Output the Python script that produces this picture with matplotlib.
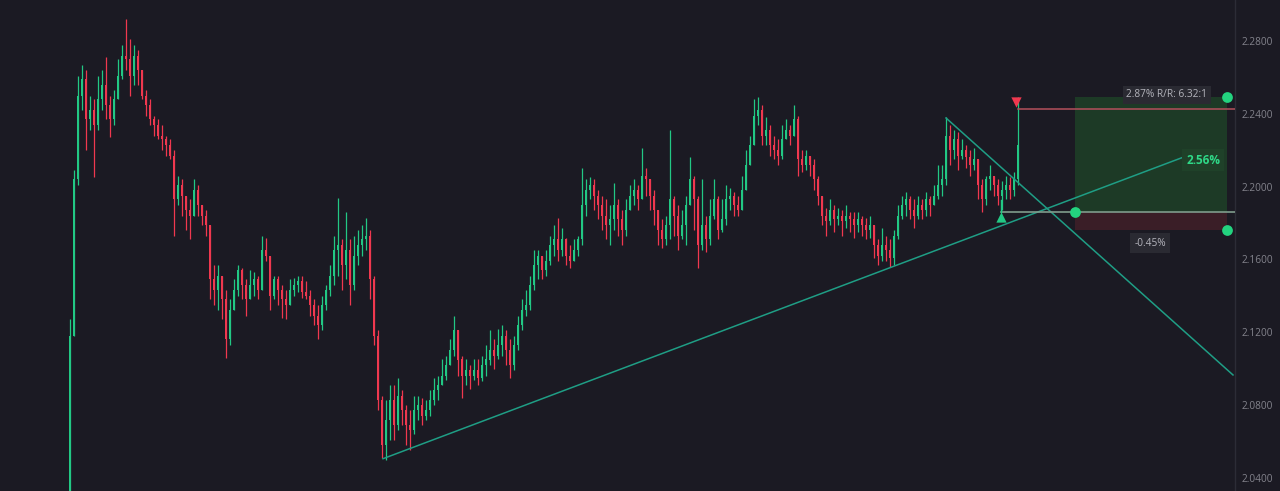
import matplotlib
matplotlib.use("Agg")
import matplotlib.pyplot as plt
import numpy as np

# ---------------- data ----------------
first_open = 2.033
closes = [
    2.118, 2.204, 2.250, 2.259, 2.237, 2.242, 2.234, 2.248, 2.256, 2.245,
    2.237, 2.248, 2.261, 2.272, 2.270, 2.261, 2.272, 2.264, 2.250, 2.245,
    2.237, 2.234, 2.228, 2.226, 2.223, 2.217, 2.193, 2.201, 2.195, 2.187,
    2.184, 2.198, 2.190, 2.184, 2.179, 2.149, 2.143, 2.151, 2.138, 2.116,
    2.132, 2.143, 2.154, 2.146, 2.138, 2.146, 2.149, 2.143, 2.165, 2.162,
    2.140, 2.149, 2.143, 2.138, 2.135, 2.143, 2.146, 2.148, 2.142, 2.140,
    2.135, 2.129, 2.124, 2.135, 2.143, 2.151, 2.165, 2.168, 2.157, 2.165,
    2.146, 2.162, 2.168, 2.171, 2.173, 2.149, 2.118, 2.083, 2.058, 2.072,
    2.083, 2.069, 2.085, 2.077, 2.069, 2.066, 2.077, 2.080, 2.074, 2.077,
    2.083, 2.088, 2.091, 2.096, 2.102, 2.110, 2.121, 2.105, 2.096, 2.099,
    2.096, 2.099, 2.095, 2.102, 2.105, 2.110, 2.107, 2.113, 2.118, 2.110,
    2.102, 2.113, 2.124, 2.132, 2.135, 2.146, 2.157, 2.162, 2.154, 2.159,
    2.168, 2.171, 2.165, 2.171, 2.162, 2.159, 2.165, 2.171, 2.190, 2.198,
    2.201, 2.195, 2.190, 2.184, 2.179, 2.182, 2.190, 2.182, 2.176, 2.187,
    2.195, 2.198, 2.193, 2.206, 2.204, 2.195, 2.187, 2.176, 2.171, 2.179,
    2.193, 2.184, 2.173, 2.179, 2.190, 2.204, 2.193, 2.168, 2.179, 2.171,
    2.184, 2.193, 2.176, 2.182, 2.193, 2.195, 2.190, 2.187, 2.198, 2.212,
    2.223, 2.239, 2.242, 2.228, 2.231, 2.223, 2.220, 2.217, 2.226, 2.231,
    2.228, 2.237, 2.215, 2.212, 2.217, 2.212, 2.204, 2.195, 2.184, 2.181,
    2.187, 2.182, 2.184, 2.181, 2.184, 2.182, 2.179, 2.182, 2.179, 2.176,
    2.179, 2.168, 2.162, 2.168, 2.165, 2.161, 2.173, 2.184, 2.190, 2.193,
    2.187, 2.184, 2.190, 2.187, 2.193, 2.190, 2.195, 2.201, 2.204, 2.228,
    2.220, 2.226, 2.217, 2.220, 2.216, 2.212, 2.215, 2.201, 2.193, 2.204,
    2.206, 2.201, 2.195, 2.198, 2.201, 2.198, 2.204, 2.223,
]
highs = [
    2.127, 2.209, 2.261, 2.267, 2.264, 2.250, 2.248, 2.261, 2.264, 2.271,
    2.250, 2.253, 2.270, 2.278, 2.292, 2.281, 2.278, 2.275, 2.261, 2.253,
    2.248, 2.239, 2.237, 2.234, 2.228, 2.226, 2.220, 2.206, 2.204, 2.195,
    2.193, 2.204, 2.201, 2.190, 2.187, 2.176, 2.157, 2.157, 2.146, 2.143,
    2.138, 2.149, 2.157, 2.155, 2.149, 2.154, 2.153, 2.151, 2.173, 2.172,
    2.162, 2.151, 2.151, 2.146, 2.143, 2.149, 2.150, 2.151, 2.151, 2.148,
    2.143, 2.138, 2.135, 2.140, 2.146, 2.157, 2.173, 2.194, 2.171, 2.186,
    2.171, 2.173, 2.176, 2.179, 2.183, 2.176, 2.151, 2.121, 2.085, 2.083,
    2.091, 2.091, 2.095, 2.088, 2.080, 2.077, 2.085, 2.085, 2.084, 2.083,
    2.088, 2.095, 2.096, 2.105, 2.107, 2.116, 2.129, 2.118, 2.107, 2.105,
    2.102, 2.105, 2.105, 2.107, 2.113, 2.121, 2.116, 2.122, 2.124, 2.121,
    2.116, 2.118, 2.129, 2.138, 2.143, 2.151, 2.165, 2.165, 2.162, 2.165,
    2.173, 2.179, 2.183, 2.177, 2.172, 2.168, 2.171, 2.173, 2.210, 2.204,
    2.205, 2.204, 2.198, 2.195, 2.193, 2.190, 2.202, 2.193, 2.187, 2.193,
    2.201, 2.204, 2.201, 2.221, 2.210, 2.204, 2.198, 2.187, 2.182, 2.184,
    2.231, 2.195, 2.190, 2.187, 2.195, 2.216, 2.206, 2.195, 2.204, 2.184,
    2.193, 2.204, 2.195, 2.193, 2.201, 2.199, 2.197, 2.195, 2.206, 2.220,
    2.228, 2.248, 2.249, 2.245, 2.238, 2.234, 2.228, 2.226, 2.234, 2.237,
    2.234, 2.245, 2.239, 2.220, 2.220, 2.217, 2.215, 2.206, 2.195, 2.188,
    2.193, 2.190, 2.188, 2.187, 2.190, 2.186, 2.186, 2.186, 2.184, 2.183,
    2.184, 2.177, 2.171, 2.177, 2.173, 2.171, 2.176, 2.190, 2.195, 2.197,
    2.195, 2.193, 2.195, 2.193, 2.197, 2.195, 2.201, 2.212, 2.212, 2.238,
    2.234, 2.231, 2.230, 2.226, 2.223, 2.220, 2.221, 2.215, 2.204, 2.206,
    2.212, 2.206, 2.204, 2.203, 2.206, 2.205, 2.208, 2.249,
]
lows = [
    2.033, 2.118, 2.201, 2.242, 2.220, 2.231, 2.205, 2.231, 2.242, 2.237,
    2.227, 2.234, 2.248, 2.259, 2.264, 2.250, 2.256, 2.256, 2.248, 2.239,
    2.234, 2.228, 2.226, 2.220, 2.217, 2.215, 2.173, 2.190, 2.184, 2.176,
    2.171, 2.184, 2.184, 2.179, 2.173, 2.138, 2.135, 2.132, 2.127, 2.106,
    2.113, 2.132, 2.140, 2.138, 2.129, 2.138, 2.140, 2.138, 2.143, 2.159,
    2.132, 2.138, 2.135, 2.128, 2.127, 2.135, 2.140, 2.142, 2.139, 2.138,
    2.129, 2.124, 2.116, 2.121, 2.132, 2.140, 2.146, 2.151, 2.143, 2.149,
    2.135, 2.143, 2.157, 2.162, 2.165, 2.138, 2.113, 2.077, 2.051, 2.050,
    2.061, 2.061, 2.066, 2.069, 2.058, 2.055, 2.064, 2.072, 2.069, 2.072,
    2.074, 2.080, 2.083, 2.091, 2.094, 2.102, 2.107, 2.096, 2.084, 2.091,
    2.089, 2.094, 2.091, 2.093, 2.096, 2.102, 2.100, 2.105, 2.107, 2.102,
    2.095, 2.099, 2.110, 2.121, 2.129, 2.132, 2.143, 2.149, 2.149, 2.151,
    2.157, 2.162, 2.159, 2.162, 2.157, 2.155, 2.159, 2.162, 2.168, 2.184,
    2.193, 2.187, 2.182, 2.176, 2.171, 2.168, 2.176, 2.173, 2.168, 2.173,
    2.187, 2.190, 2.187, 2.193, 2.195, 2.187, 2.179, 2.168, 2.166, 2.168,
    2.171, 2.173, 2.165, 2.171, 2.168, 2.193, 2.176, 2.155, 2.165, 2.164,
    2.168, 2.182, 2.171, 2.175, 2.179, 2.187, 2.184, 2.184, 2.187, 2.204,
    2.212, 2.226, 2.234, 2.223, 2.223, 2.217, 2.215, 2.212, 2.215, 2.226,
    2.223, 2.228, 2.206, 2.208, 2.209, 2.206, 2.198, 2.190, 2.179, 2.173,
    2.179, 2.175, 2.179, 2.173, 2.177, 2.175, 2.172, 2.175, 2.173, 2.171,
    2.172, 2.161, 2.157, 2.159, 2.159, 2.156, 2.157, 2.171, 2.182, 2.184,
    2.182, 2.177, 2.182, 2.182, 2.184, 2.184, 2.190, 2.193, 2.195, 2.201,
    2.212, 2.215, 2.209, 2.215, 2.210, 2.206, 2.209, 2.193, 2.186, 2.190,
    2.198, 2.195, 2.190, 2.187, 2.193, 2.193, 2.195, 2.201,
]

# price axis ticks
price_ticks = [2.04, 2.08, 2.12, 2.16, 2.20, 2.24, 2.28]

# drawings (bar index, price)
support_line = [(78.25, 2.0505), (281.75, 2.2190)]
resist_line = [(219.0, 2.2377), (290.75, 2.0965)]

# long-position tool
pos_entry = 2.186
pos_target = 2.2494
pos_stop = 2.1761
pos_left, pos_right = 251.25, 289.25
entry_start = 232.75
last_price = 2.2427
target_label = "2.87% R/R: 6.32:1"
gain_label = "2.56%"
stop_label = "-0.45%"

# ---------------- styling ----------------
BG = "#1b1a23"
UP = "#22c884"
DN = "#f0384f"
LINE = "#1f9e85"
AXIS_TXT = "#83838c"

W, H, DPI = 1280, 491, 100
fig = plt.figure(figsize=(W / DPI, H / DPI), dpi=DPI, facecolor=BG)
ax = fig.add_axes([0, 0, 1235 / W, 1])
ax.set_facecolor(BG)

n = len(closes)
idx = np.arange(n)
c = np.array(closes)
o = np.concatenate([[first_open], c[:-1]])
hi = np.maximum(np.array(highs), np.maximum(o, c))
lo = np.minimum(np.array(lows), np.minimum(o, c))
up = c >= o
cols = np.where(up, UP, DN)

ax.vlines(idx, lo, hi, colors=cols, linewidth=0.9, zorder=3)
body_bottom = np.minimum(o, c)
body_h = np.maximum(np.abs(c - o), 0.0006)
ax.bar(idx, body_h, bottom=body_bottom, width=0.55, color=cols, linewidth=0, zorder=4)

# trend lines
ax.plot([p[0] for p in support_line], [p[1] for p in support_line], color=LINE, lw=1.1, zorder=5)
ax.plot([p[0] for p in resist_line], [p[1] for p in resist_line], color=LINE, lw=1.1, zorder=5)

# position tool boxes
ax.fill_between([pos_left, pos_right], pos_entry, pos_target, color="#1d3a26", zorder=1, lw=0)
ax.fill_between([pos_left, pos_right], pos_stop, pos_entry, color="#3a1e27", zorder=1, lw=0)
xr = 291.25
ax.plot([entry_start, xr], [pos_entry, pos_entry], color="#7f9c8c", lw=1.2, zorder=6)
ax.plot([entry_start, entry_start], [pos_entry, 2.1926], color=UP, lw=1.0, zorder=6)
ax.plot([n - 1, xr], [last_price, last_price], color="#b4505c", lw=1.1, zorder=6)

ax.scatter([pos_right, pos_left, pos_right], [pos_target, pos_entry, pos_stop],
           s=60, color="#23d37f", zorder=8, linewidths=0)
ax.scatter([entry_start], [2.1833], marker="^", s=55, color=UP, zorder=8, linewidths=0)
ax.scatter([n - 1.5], [2.2465], marker="v", s=55, color=DN, zorder=8, linewidths=0)

ax.text(274.2, 2.2505, target_label, color="#b5b5bd", fontsize=7.3,
        ha="center", va="center", zorder=9, family="Open Sans",
        bbox=dict(boxstyle="square,pad=0.35", fc="#2a2a32", ec="none"))
ax.text(283.3, 2.2146, gain_label, color="#2fd988", fontsize=8.5, fontweight="bold",
        ha="center", va="center", zorder=9, family="Open Sans",
        bbox=dict(boxstyle="square,pad=0.35", fc="#1f4129", ec="none"))
ax.text(270.0, 2.1690, stop_label, color="#b5b5bd", fontsize=7.3,
        ha="center", va="center", zorder=9, family="Open Sans",
        bbox=dict(boxstyle="square,pad=0.4", fc="#2a2a32", ec="none"))

# axes
ax.set_xlim(-17.5, xr)
ax.set_ylim(2.28 - 450 / 1820, 2.28 + 41 / 1820)
for s in ["left", "top", "bottom"]:
    ax.spines[s].set_visible(False)
ax.spines["right"].set_color("#2c2c36")
ax.spines["right"].set_linewidth(1.0)
ax.set_xticks([])
ax.yaxis.tick_right()
ax.set_yticks(price_ticks)
ax.set_yticklabels([f"{v:.4f}" for v in price_ticks], color=AXIS_TXT, fontsize=7.3, family="Open Sans")
ax.tick_params(axis="y", length=0, pad=5)

fig.savefig("out.png", dpi=DPI, facecolor=BG)
